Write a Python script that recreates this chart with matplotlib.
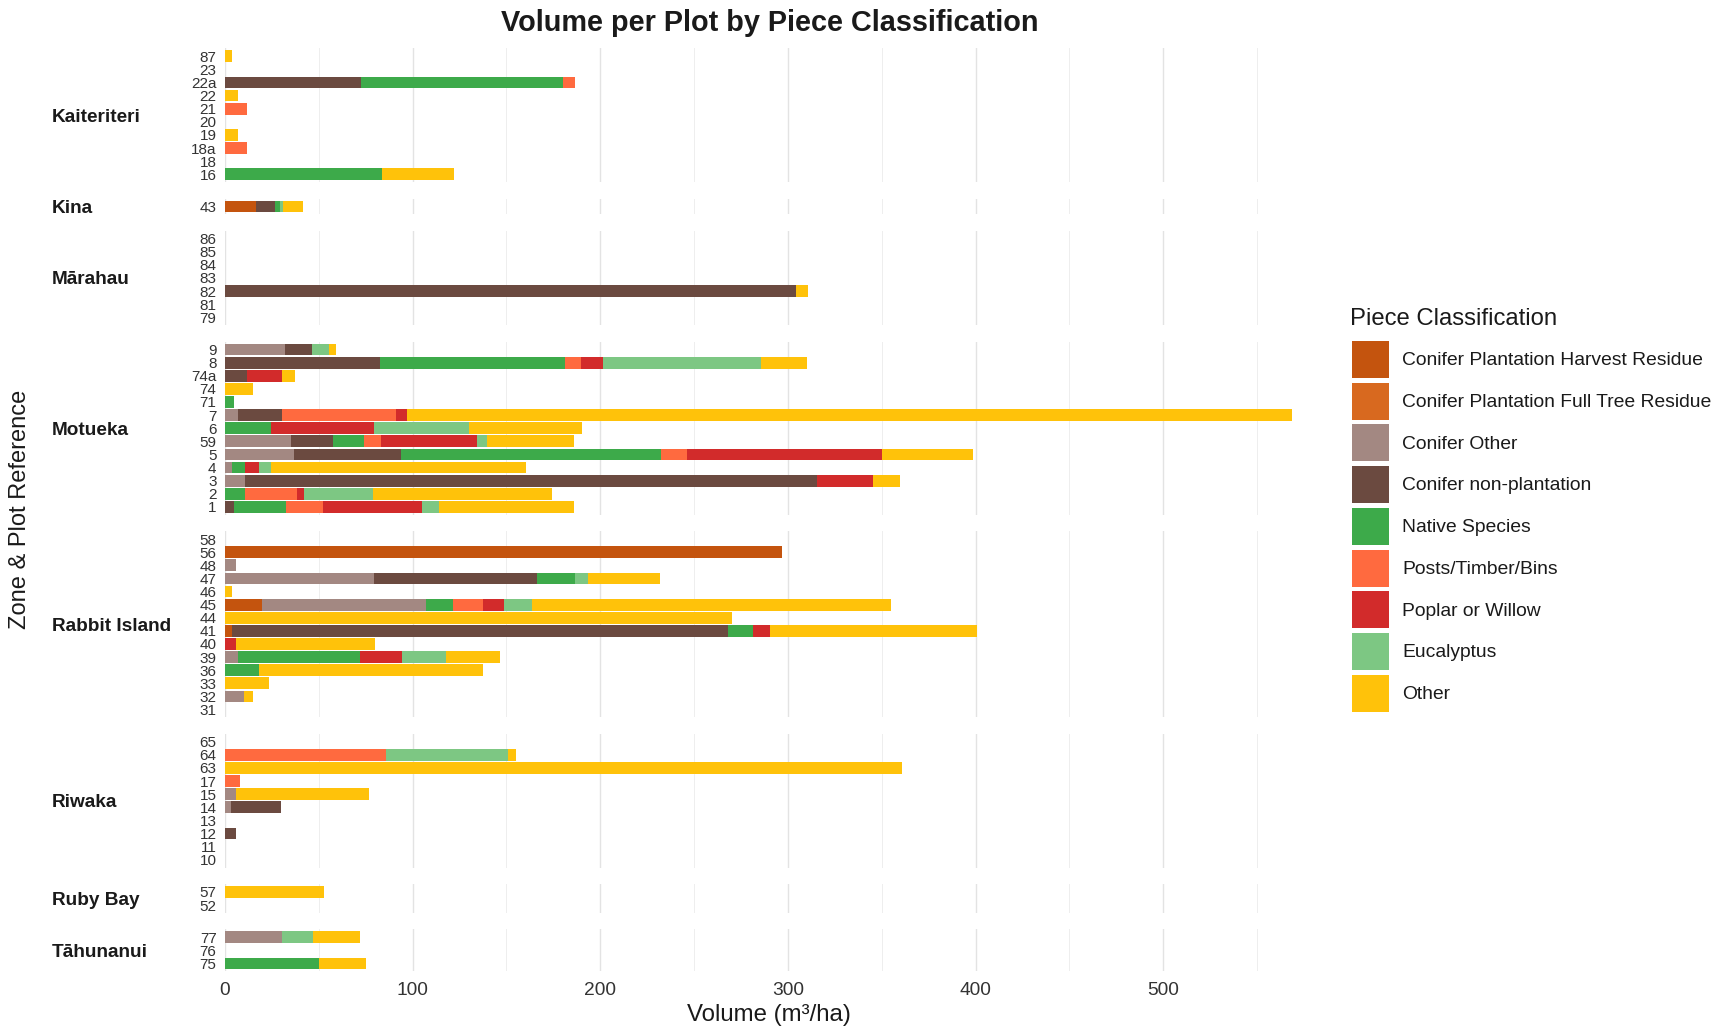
import numpy as np
import matplotlib.pyplot as plt
from matplotlib.patches import Patch
from matplotlib.ticker import MultipleLocator
import matplotlib.transforms as mtransforms

plt.rcParams['font.family'] = ['Liberation Sans', 'DejaVu Sans']

# piece classes, in stacking order (left to right)
classes = ['Conifer Plantation Harvest Residue', 'Conifer Plantation Full Tree Residue',
           'Conifer Other', 'Conifer non-plantation', 'Native Species',
           'Posts/Timber/Bins', 'Poplar or Willow', 'Eucalyptus', 'Other']
colours = ['#C4540E', '#D8691F', '#A38882', '#6B4A40', '#3DAA4A',
           '#FF6A3F', '#D22B2B', '#7DC783', '#FFC20A']

zones = ['Kaiteriteri', 'Kina', 'Mārahau', 'Motueka', 'Rabbit Island',
         'Riwaka', 'Ruby Bay', 'Tāhunanui']

# volume (m3/ha) per plot; columns follow `classes`
#                 HR     FTR  CO     CNP    NS     PTB   PW     EU    OT
kaiteriteri_plots = ['87', '23', '22a', '22', '21', '20', '19', '18a', '18', '16']
kaiteriteri_vol = [[0,    0,   0,     0,     0,     0,    0,     0,    4],
                   [0,    0,   0,     0,     0,     0,    0,     0,    0],
                   [0,    0,   0,     72.4,  107.6, 6.7,  0,     0,    0],
                   [0,    0,   0,     0,     0,     0,    0,     0,    7],
                   [0,    0,   0,     0,     0,     12,   0,     0,    0],
                   [0,    0,   0,     0,     0,     0,    0,     0,    0],
                   [0,    0,   0,     0,     0,     0,    0,     0,    7],
                   [0,    0,   0,     0,     0,     12,   0,     0,    0],
                   [0,    0,   0,     0,     0,     0,    0,     0,    0],
                   [0,    0,   0,     0,     83.6,  0,    0,     0,    38.3]]

kina_plots = ['43']
kina_vol = [[16.5, 0,   0,     10,    3,     0,    0,     1.5,  10.8]]

marahau_plots = ['86', '85', '84', '83', '82', '81', '79']
marahau_vol = [[0,    0,   0,     0,     0,     0,    0,     0,    0],
               [0,    0,   0,     0,     0,     0,    0,     0,    0],
               [0,    0,   0,     0,     0,     0,    0,     0,    0],
               [0,    0,   0,     0,     0,     0,    0,     0,    0],
               [0,    0,   0,     304.5, 0,     0,    0,     0,    6],
               [0,    0,   0,     0,     0,     0,    0,     0,    0],
               [0,    0,   0,     0,     0,     0,    0,     0,    0]]

motueka_plots = ['9', '8', '74a', '74', '71', '7', '6', '59', '5', '4', '3', '2', '1']
motueka_vol = [[0,    0,   32.1,  14.3,  0,     0,    0,     8.8,  3.8],
               [0,    0,   0,     82.6,  98.6,  8.6,  11.9,  84.2, 24.1],
               [0,    0,   0,     11.7,  0,     0,    18.5,  0,    7.4],
               [0,    0,   0,     0,     0,     0,    0,     0,    15.2],
               [0,    0,   0,     0,     5,     0,    0,     0,    0],
               [0,    0,   6.7,   23.8,  0,     60.9, 5.5,   0,    471.5],
               [0,    0,   0,     0,     24.8,  0,    54.7,  50.7, 60.3],
               [0,    0,   35,    22.4,  16.6,  9.1,  51.4,  5.3,  46.4],
               [0,    0,   36.9,  56.9,  138.8, 13.6, 104.2, 0,    48.4],
               [0,    0,   3.8,   0,     6.9,   0,    7.2,   6.6,  136],
               [0,    0,   10.7,  305,   0,     0,    29.5,  0,    14.5],
               [0,    0,   0,     0,     10.5,  28.1, 3.5,   36.9, 95.3],
               [0,    0,   0,     5,     27.6,  19.5, 52.9,  9.3,  71.7]]

rabbit_plots = ['58', '56', '48', '47', '46', '45', '44', '41', '40', '39', '36', '33', '32', '31']
rabbit_vol = [[0,    0,   0,     0,     0,     0,    0,     0,    0],
              [297,  0,   0,     0,     0,     0,    0,     0,    0],
              [0,    0,   6,     0,     0,     0,    0,     0,    0],
              [0,    0,   79.5,  86.7,  20.5,  0,    0,     6.6,  38.6],
              [0,    0,   0,     0,     0,     0,    0,     0,    4],
              [19.5, 0,   87.9,  0,     14,    16.2, 11,    15,   191.4],
              [0,    0,   0,     0,     0,     0,    0,     0,    270.2],
              [4,    0,   0,     263.9, 13.4,  0,    9.2,   0,    110.4],
              [0,    0,   0,     0,     0,     0,    5.7,   0,    74.3],
              [0,    0,   7.1,   0,     65,    0,    22.2,  23.6, 28.5],
              [0,    0,   0,     0,     17.9,  0,    0,     0,    119.7],
              [0,    0,   0,     0,     0,     0,    0,     0,    23.3],
              [0,    0,   10.2,  0,     0,     0,    0,     0,    5],
              [0,    0,   0,     0,     0,     0,    0,     0,    0]]

riwaka_plots = ['65', '64', '63', '17', '15', '14', '13', '12', '11', '10']
riwaka_vol = [[0,    0,   0,     0,     0,     0,    0,     0,    0],
              [0,    0,   0,     0,     0,     85.7, 0,     65.3, 4],
              [0,    0,   0,     0,     0,     0,    0,     0,    360.8],
              [0,    0,   0,     0,     0,     8.1,  0,     0,    0],
              [0,    0,   5.7,   0,     0,     0,    0,     0,    71],
              [0,    0,   3.3,   26.5,  0,     0,    0,     0,    0],
              [0,    0,   0,     0,     0,     0,    0,     0,    0],
              [0,    0,   0,     5.7,   0,     0,    0,     0,    0],
              [0,    0,   0,     0,     0,     0,    0,     0,    0],
              [0,    0,   0,     0,     0,     0,    0,     0,    0]]

rubybay_plots = ['57', '52']
rubybay_vol = [[0,    0,   0,     0,     0,     0,    0,     0,    52.6],
               [0,    0,   0,     0,     0,     0,    0,     0,    0]]

tahunanui_plots = ['77', '76', '75']
tahunanui_vol = [[0,    0,   30.2,  0,     0,     0,    0,     16.5, 25.4],
                 [0,    0,   0,     0,     0,     0,    0,     0,    0],
                 [0,    0,   0,     0,     50.2,  0,    0,     0,    25]]

plots = [kaiteriteri_plots, kina_plots, marahau_plots, motueka_plots,
         rabbit_plots, riwaka_plots, rubybay_plots, tahunanui_plots]
vols = [kaiteriteri_vol, kina_vol, marahau_vol, motueka_vol,
        rabbit_vol, riwaka_vol, rubybay_vol, tahunanui_vol]

fig = plt.figure(figsize=(17.21, 10.29), dpi=100)
gs = fig.add_gridspec(len(zones), 1, height_ratios=[len(p) + 0.2 for p in plots],
                      left=0.1307, right=0.7653, top=0.953, bottom=0.056, hspace=0.163)

axes = []
for i, zone in enumerate(zones):
    ax = fig.add_subplot(gs[i])
    axes.append(ax)
    v = np.array(vols[i], dtype=float)
    y = np.arange(len(plots[i]))
    left = np.zeros(len(y))
    for k in range(len(classes)):
        ax.barh(y, v[:, k], left=left, height=0.9, color=colours[k], linewidth=0)
        left += v[:, k]

    ax.set_xlim(0, 582)
    ax.set_ylim(len(y) - 0.4, -0.6)
    ax.set_yticks(y)
    ax.set_yticklabels(plots[i], fontsize=11, color='#333333')
    ax.xaxis.set_major_locator(MultipleLocator(100))
    ax.xaxis.set_minor_locator(MultipleLocator(50))
    ax.grid(axis='x', which='major', color='#E3E3E3', linewidth=1.0)
    ax.grid(axis='x', which='minor', color='#EEEEEE', linewidth=0.7)
    ax.set_axisbelow(True)
    ax.tick_params(length=0, which='both')
    ax.tick_params(axis='y', pad=6)
    for s in ax.spines.values():
        s.set_visible(False)
    if i < len(zones) - 1:
        ax.tick_params(axis='x', labelbottom=False)
    else:
        ax.tick_params(axis='x', labelsize=13.8, labelcolor='#333333', pad=8)

    # zone strip label on the left
    tr = mtransforms.blended_transform_factory(fig.transFigure, ax.transAxes)
    tr = mtransforms.offset_copy(tr, fig=fig, y=-2, units='dots')
    ax.text(0.030, 0.5, zone, transform=tr, ha='left', va='center',
            fontsize=13.7, fontweight='bold', color='#1a1a1a')

fig.text(0.447, 0.978, 'Volume per Plot by Piece Classification', ha='center', va='center',
         fontsize=20.8, fontweight='bold', color='#1a1a1a')
fig.text(0.447, 0.0136, 'Volume (m³/ha)', ha='center', va='center', fontsize=17.3, color='#1a1a1a')
fig.text(0.0115, 0.5045, 'Zone & Plot Reference', ha='center', va='center', rotation=90,
         fontsize=17, color='#1a1a1a')

# legend: title placed on its own, keys as large squares below it
fig.text(1350 / 1721, 1 - 319 / 1029, 'Piece Classification', ha='left', va='center',
         fontsize=17.2, color='#1a1a1a')
handles = [Patch(facecolor=c, edgecolor='none') for c in colours]
leg = fig.legend(handles, classes, loc='upper left', bbox_to_anchor=(1352 / 1721, 1 - 341 / 1029),
                 frameon=False, fontsize=13.9,
                 handlelength=1.91, handleheight=2.57, labelspacing=0.245, handletextpad=0.68,
                 borderpad=0, borderaxespad=0)
for t in leg.get_texts():
    t.set_color('#1a1a1a')

fig.savefig('out.png', dpi=100, facecolor='white')
